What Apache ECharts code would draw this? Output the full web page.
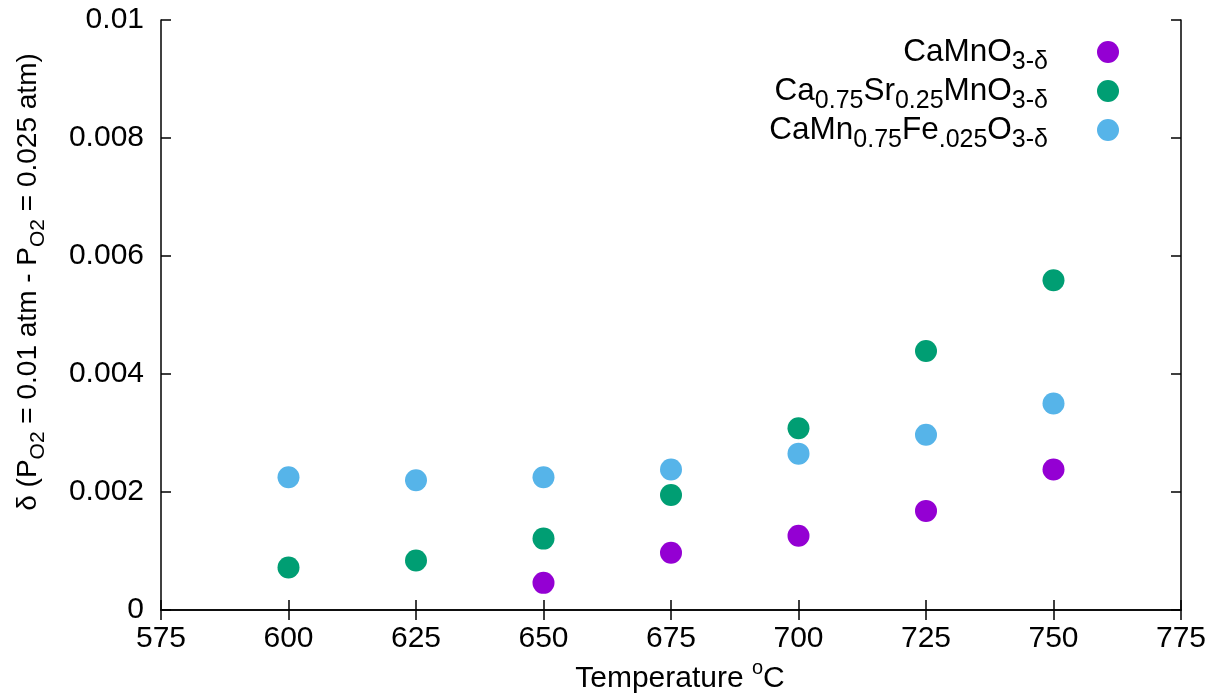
<!DOCTYPE html>
<html>
<head>
<meta charset="utf-8">
<script src="https://cdn.jsdelivr.net/npm/echarts@6/dist/echarts.min.js"></script>
<style>
  html, body { margin: 0; padding: 0; background: #fff; }
  #chart { width: 1217px; height: 697px; }
</style>
</head>
<body>
<div id="chart"></div>
<script>
// data
const temperatures = [600, 625, 650, 675, 700, 725, 750];
const caMnO3 = [null, null, 0.00046, 0.00097, 0.00126, 0.00168, 0.00238];
const caSrMnO3 = [0.00072, 0.00084, 0.00121, 0.00195, 0.00308, 0.00439, 0.00559];
const caMnFeO3 = [0.00225, 0.0022, 0.00225, 0.00238, 0.00265, 0.00297, 0.0035];

const seriesNames = ["CaMnO3-δ", "Ca0.75Sr0.25MnO3-δ", "CaMn0.75Fe.025O3-δ"];
const seriesColors = ["#9400d3", "#009e73", "#56b4e9"];
// rich text versions of the names (subscripts)
const richNames = {
  "CaMnO3-δ": "{m|CaMnO}{s|3-δ}",
  "Ca0.75Sr0.25MnO3-δ": "{m|Ca}{s|0.75}{m|Sr}{s|0.25}{m|MnO}{s|3-δ}",
  "CaMn0.75Fe.025O3-δ": "{m|CaMn}{s|0.75}{m|Fe}{s|.025}{m|O}{s|3-δ}",
};

const FONT = "Liberation Sans";
// m = normal, s = subscript, u = superscript
function richStyles(main, small) {
  return {
    m: { fontSize: main, fontFamily: FONT, color: "#000" },
    s: { fontSize: small, fontFamily: FONT, color: "#000", padding: [20, 0, 0, 0] },
    u: { fontSize: small, fontFamily: FONT, color: "#000", padding: [0, 0, 20, 0] },
  };
}

function pairs(values) {
  const out = [];
  temperatures.forEach((t, i) => {
    if (values[i] != null) out.push([t, values[i]]);
  });
  return out;
}

const chart = echarts.init(document.getElementById("chart"));

const axisLine = { lineStyle: { color: "#000", width: 1.5 } };
const axisTick = { inside: true, length: 10, lineStyle: { color: "#000", width: 1.5 } };

const option = {
  animation: false,
  grid: { left: 161, right: 36, top: 20, bottom: 87, outerBoundsMode: "none", containLabel: false },
  legend: seriesNames.map((n, i) => ({
    data: [n],
    right: 98,
    top: 32 + i * 39,
    padding: 0,
    align: "right",
    icon: "circle",
    itemWidth: 22,
    itemHeight: 22,
    selectedMode: false,
    formatter: (name) => richNames[name],
    textStyle: { lineHeight: 40, padding: [0, 44, 0, 0], rich: richStyles(31.5, 25) },
  })),
  xAxis: [
    {
      type: "value",
      min: 575,
      max: 775,
      interval: 25,
      name: "{m|Temperature }{u|o}{m|C}",
      nameLocation: "middle",
      nameGap: 47,
      nameTextStyle: { lineHeight: 40, padding: [0, 0, 0, 18], rich: richStyles(30, 20) },
      axisLine: axisLine,
      axisTick: axisTick,
      splitLine: { show: false },
      axisLabel: { margin: 14, fontSize: 30, fontFamily: FONT, color: "#000" },
    },
    {
      type: "value",
      position: "top",
      min: 575,
      max: 775,
      interval: 25,
      axisLine: axisLine,
      axisTick: axisTick,
      splitLine: { show: false },
      axisLabel: { show: false },
    },
  ],
  yAxis: [
    {
      type: "value",
      min: 0,
      max: 0.01,
      interval: 0.002,
      name: "{m|δ (P}{s|O2}{m| = 0.01 atm - P}{s|O2}{m| = 0.025 atm)}",
      nameLocation: "middle",
      nameGap: 113,
      nameTextStyle: { lineHeight: 40, padding: [0, 0, 0, 66], rich: richStyles(28, 21) },
      axisLine: axisLine,
      axisTick: axisTick,
      splitLine: { show: false },
      axisLabel: {
        margin: 17,
        fontSize: 30,
        fontFamily: FONT,
        color: "#000",
        formatter: (v) => (v === 0 ? "0" : String(parseFloat(v.toFixed(4)))),
      },
    },
    {
      type: "value",
      position: "right",
      min: 0,
      max: 0.01,
      interval: 0.002,
      axisLine: axisLine,
      axisTick: axisTick,
      splitLine: { show: false },
      axisLabel: { show: false },
    },
  ],
  series: [caMnO3, caSrMnO3, caMnFeO3].map((vals, i) => ({
    name: seriesNames[i],
    type: "scatter",
    symbol: "circle",
    symbolSize: 22,
    itemStyle: { color: seriesColors[i], opacity: 1 },
    data: pairs(vals),
  })),
};

chart.setOption(option);
</script>
</body>
</html>
